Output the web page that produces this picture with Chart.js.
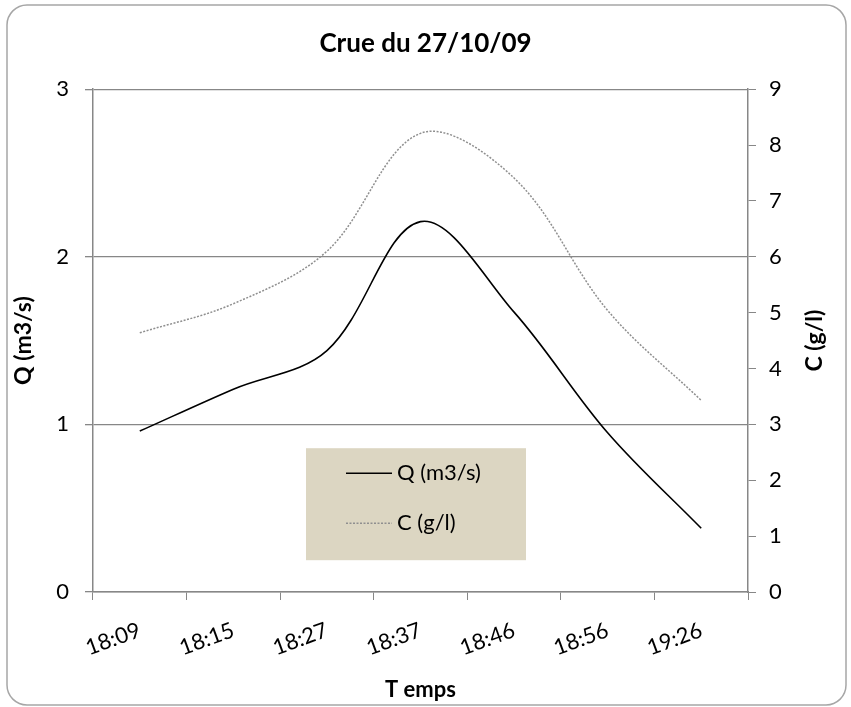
<!DOCTYPE html>
<html>
<head>
<meta charset="utf-8">
<script src="https://cdn.jsdelivr.net/npm/chart.js@4.4.1/dist/chart.umd.min.js"></script>
<style>
  html, body { margin: 0; padding: 0; background: #fff; }
  #wrap { width: 851px; height: 707px; }
</style>
</head>
<body>
<div id="wrap"><canvas id="crueChart" width="851" height="707"></canvas></div>
<script>
// Crue du 27/10/09 : débit et concentration
const temps = ["18:09", "18:15", "18:27", "18:37", "18:46", "18:56", "19:26"];
const debit = [0.96, 1.21, 1.44, 2.21, 1.67, 0.95, 0.38];          // Q (m3/s)
const concentration = [4.64, 5.16, 6.10, 8.21, 7.41, 5.04, 3.43];   // C (g/l)
const qTicks = [0, 1, 2, 3];
const cTicks = [0, 1, 2, 3, 4, 5, 6, 7, 8, 9];

const FONT = "Lato, 'Open Sans', sans-serif";
const GRIS = "#878787";

// cadre arrondi autour du graphique
const cadre = {
    id: "cadre",
    beforeDraw(chart) {
        const c = chart.ctx;
        c.save();
        c.fillStyle = "#fff";
        c.fillRect(0, 0, chart.width, chart.height);
        c.strokeStyle = "#a6a6a6";
        c.lineWidth = 1.5;
        c.beginPath();
        c.roundRect(7, 5, chart.width - 12, chart.height - 7, 20);
        c.stroke();
        c.restore();
    },
};

// titre de l'axe de droite, lu de bas en haut comme celui de gauche
const titreDroite = {
    id: "titreDroite",
    afterDraw(chart) {
        const c = chart.ctx;
        const area = chart.chartArea;
        c.save();
        c.translate(815, (area.top + area.bottom) / 2);
        c.rotate(-Math.PI / 2);
        c.font = "bold 23px " + FONT;
        c.fillStyle = "#000";
        c.textAlign = "center";
        c.textBaseline = "middle";
        c.fillText("C (g/l)", 0, 0);
        c.restore();
    },
};

// légende dans un cadre beige à l'intérieur de la zone de tracé
const legendeBoite = {
    id: "legendeBoite",
    afterDraw(chart) {
        const c = chart.ctx;
        const area = chart.chartArea;
        const x0 = area.left + 213, y0 = area.top + 359;
        c.save();
        c.fillStyle = "#dcd6c2";
        c.fillRect(x0, y0, 220, 112);
        c.font = "22px " + FONT;
        c.textBaseline = "middle";
        chart.data.datasets.forEach((ds, i) => {
            const y = y0 + 25 + i * 50;
            c.strokeStyle = ds.borderColor;
            c.lineWidth = ds.borderWidth;
            c.setLineDash(ds.borderDash || []);
            c.beginPath();
            c.moveTo(x0 + 40, y);
            c.lineTo(x0 + 86, y);
            c.stroke();
            c.setLineDash([]);
            c.fillStyle = "#000";
            c.fillText(ds.label, x0 + 91, y);
        });
        c.restore();
    },
};

const ctx = document.getElementById("crueChart").getContext("2d");

const crueChart = new Chart(ctx, {
    type: "line",
    data: {
        labels: temps,
        datasets: [
            {
                label: "Q (m3/s)",
                data: debit,
                yAxisID: "y",
                borderColor: "#000",
                borderWidth: 1.6,
                tension: 0.35,
                pointRadius: 0,
            },
            {
                label: "C (g/l)",
                data: concentration,
                yAxisID: "y1",
                borderColor: "#8f8f8f",
                borderWidth: 1.5,
                borderDash: [2, 1.5],
                tension: 0.35,
                pointRadius: 0,
            },
        ],
    },
    options: {
        responsive: false,
        animation: false,
        layout: { padding: 0 },
        scales: {
            x: {
                offset: true,
                afterFit: (s) => { s.height = 115; },
                grid: {
                    offset: true,
                    drawOnChartArea: false,
                    color: GRIS,
                    tickLength: 8,
                },
                border: { color: GRIS, width: 1.5 },
                ticks: {
                    color: "#000",
                    font: { family: FONT, size: 22 },
                    minRotation: 20,
                    maxRotation: 20,
                    padding: 17,
                    autoSkip: false,
                },
                title: {
                    display: true,
                    text: "T emps",
                    color: "#000",
                    font: { family: FONT, size: 22, weight: "bold" },
                    padding: 4,
                },
            },
            y: {
                position: "left",
                min: 0,
                max: 3,
                afterFit: (s) => { s.width = 93; },
                afterBuildTicks: (s) => { s.ticks = qTicks.map((v) => ({ value: v })); },
                grid: { color: GRIS, lineWidth: 1.3, tickLength: 8 },
                border: { color: GRIS, width: 1.5 },
                ticks: {
                    color: "#000",
                    font: { family: FONT, size: 22 },
                    padding: 16,
                },
                title: {
                    display: true,
                    text: "Q (m3/s)",
                    color: "#000",
                    font: { family: FONT, size: 23, weight: "bold" },
                    padding: 10,
                },
            },
            y1: {
                position: "right",
                min: 0,
                max: 9,
                afterFit: (s) => { s.width = 103; },
                afterBuildTicks: (s) => { s.ticks = cTicks.map((v) => ({ value: v })); },
                grid: { drawOnChartArea: false, color: GRIS, tickLength: 8 },
                border: { color: GRIS, width: 1.5 },
                ticks: {
                    color: "#000",
                    font: { family: FONT, size: 22 },
                    padding: 13,
                },
            },
        },
        plugins: {
            legend: { display: false },
            tooltip: { enabled: false },
            title: {
                display: true,
                text: "Crue du 27/10/09",
                color: "#000",
                font: { family: FONT, size: 26, weight: "bold", lineHeight: 1.2 },
                padding: { top: 28, bottom: 30 },
            },
        },
    },
    plugins: [cadre, titreDroite, legendeBoite],
});
</script>
</body>
</html>
